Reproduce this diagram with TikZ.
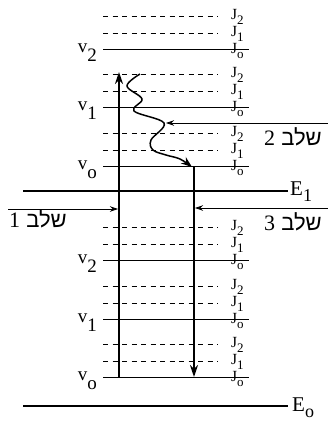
\documentclass[tikz,border=0pt]{standalone}
\usepackage{fontspec}
\setmainfont{Liberation Serif}
\newfontfamily\hebfont[Script=Hebrew]{Liberation Sans}
\TeXXeTstate=1
\usetikzlibrary{arrows.meta}

\newcommand{\vlab}[1]{{\fontsize{19}{19}\selectfont v\raisebox{-9pt}{#1}}}
\newcommand{\jlab}[1]{{\fontsize{15.5}{15.5}\selectfont J\raisebox{-5pt}{\fontsize{13}{13}\selectfont #1}}}
\newcommand{\elab}[1]{{\fontsize{21}{21}\selectfont E\raisebox{-6pt}{\fontsize{18}{18}\selectfont #1}}}
\newcommand{\steplab}[1]{{\hebfont\fontsize{22}{22}\selectfont\beginR שלב {\rmfamily #1}\endR}}

\begin{document}
\begin{tikzpicture}[
  x=1pt, y=-1pt,
  rotlevel/.style={line width=0.8pt},
  rotdash/.style={line width=0.7pt, dash pattern=on 5pt off 4.5pt},
  elevel/.style={line width=1.1pt},
  transit/.style={line width=1.8pt, -{Stealth[length=12pt, width=8pt]}},
  pump/.style={line width=0.8pt, -{Stealth[length=8pt, width=5.5pt]}},
  vname/.style={anchor=base east, inner sep=0pt},
  jname/.style={anchor=base west, inner sep=0pt},
  ename/.style={anchor=base west, inner sep=0pt},
  stepname/.style={inner sep=0pt}
]
\useasboundingbox (0,0) rectangle (328,421);

% vibrational levels with their rotational sublevels
\foreach \m/\vn/\y in {up/2/49, up/1/107, up/o/166, lo/2/260, lo/1/319, lo/o/377} {
  \draw[rotdash] (103,\y-33) -- (218,\y-33);
  \draw[rotdash] (103,\y-16) -- (218,\y-16);
  \draw[rotlevel] (103,\y) -- (249,\y);
  \node[vname] (\m-v\vn) at (97,\y+3) {\vlab{\vn}};
  \node[jname] (\m-v\vn-J2) at (231,\y-30) {\jlab{2}};
  \node[jname] (\m-v\vn-J1) at (231,\y-13) {\jlab{1}};
  \node[jname] (\m-v\vn-Jo) at (231,\y+4) {\jlab{o}};
}

% electronic states
\draw[elevel] (23,191) -- (288,191);
\node[ename] (E1) at (290,195) {\elab{1}};
\draw[elevel] (23,406) -- (288,406);
\node[ename] (Eo) at (292,411) {\elab{o}};

% absorption and emission
\coordinate (uptail) at (119,377);
\coordinate (uptip) at (119,72);
\draw[transit] (uptail) -- (uptip);
\coordinate (downtop) at (194,166);
\coordinate (downend) at (194,377);
\draw[transit] (downtop) -- (downend);

% relaxation
\draw[line width=1.5pt, -{Stealth[length=11pt, width=8pt]}]
  plot[smooth, tension=0.6] coordinates {(140,74) (127,86) (142,99) (134,111)
  (164,123) (151,140) (153,150) (166,155) (180,159) (192,167)};

% steps
\coordinate (s1start) at (8,209);
\coordinate (s1end) at (118,209);
\draw[pump] (s1start) -- (s1end);
\coordinate (s2start) at (328,123);
\coordinate (wavehit) at (166,123);
\draw[pump] (s2start) -- (wavehit);
\coordinate (s3start) at (328,208);
\coordinate (s3end) at (195,208);
\draw[pump] (s3start) -- (s3end);

\node[stepname] (step1) at (38,219) {\steplab{1}};
\node[stepname] (step2) at (293,137) {\steplab{2}};
\node[stepname] (step3) at (293,222) {\steplab{3}};
\end{tikzpicture}
\end{document}
